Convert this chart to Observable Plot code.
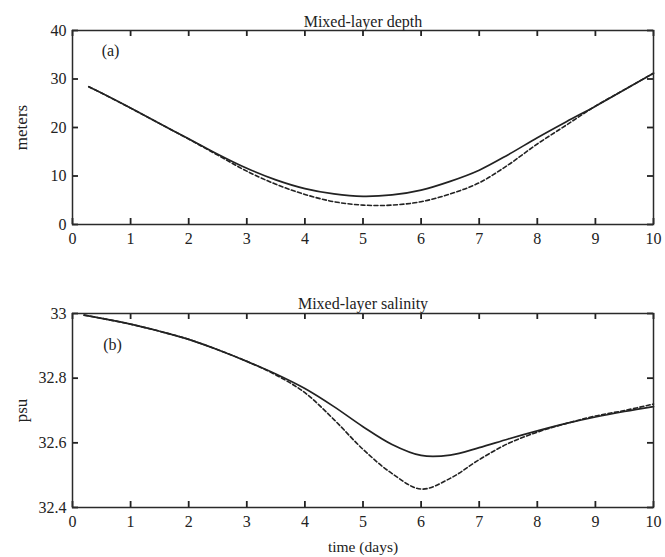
<!DOCTYPE html>
<html><head><meta charset="utf-8">
<script src="https://cdn.jsdelivr.net/npm/d3@7"></script>
<script src="https://cdn.jsdelivr.net/npm/@observablehq/plot@0.6"></script>
<style>
body{margin:0;background:#fff;}
#chart svg{display:block;}
</style>
</head><body><div id="chart"></div>
<script>
// ---- Data ----
const depthDays = [0.28, 0.5, 1, 1.5, 2, 2.5, 3, 3.5, 4, 4.5, 5, 5.5, 6, 6.5, 7, 7.5, 8, 8.5, 9, 9.5, 10];
const depthSolid = [28.4, 27.1, 24.0, 20.8, 17.7, 14.5, 11.6, 9.2, 7.4, 6.3, 5.8, 6.1, 7.1, 8.9, 11.2, 14.4, 17.9, 21.2, 24.4, 27.8, 31.2];
const depthDashed = [28.4, 27.1, 24.0, 20.8, 17.6, 14.3, 11.0, 8.3, 6.2, 4.7, 4.0, 4.0, 4.7, 6.3, 8.6, 12.3, 16.6, 20.5, 24.4, 27.8, 31.2];

const salDays = [0.2, 0.5, 1, 1.5, 2, 2.5, 3, 3.5, 4, 4.5, 5, 5.5, 6, 6.5, 7, 7.5, 8, 8.5, 9, 9.5, 10];
const salSolid = [32.995, 32.985, 32.967, 32.945, 32.92, 32.888, 32.852, 32.813, 32.768, 32.712, 32.65, 32.595, 32.561, 32.562, 32.585, 32.612, 32.637, 32.66, 32.68, 32.697, 32.712];
const salDashed = [32.995, 32.985, 32.967, 32.945, 32.92, 32.888, 32.852, 32.81, 32.755, 32.672, 32.58, 32.505, 32.457, 32.49, 32.548, 32.598, 32.633, 32.66, 32.683, 32.70, 32.72];

const xTicks = [0, 1, 2, 3, 4, 5, 6, 7, 8, 9, 10];
const depthTicks = [0, 10, 20, 30, 40];
const salTicks = [32.4, 32.6, 32.8, 33];
const salTickLabels = ["32.4", "32.6", "32.8", "33"];

const W = 665, ML = 72, MR = 12, FH = 194, TICK = 6;

function panel(o) {
  const solid = o.days.map((d, i) => ({t: d, v: o.solid[i]}));
  const dashed = o.days.map((d, i) => ({t: d, v: o.dashed[i]}));
  const fw = W - ML - MR;
  // tick length expressed in each scale's units (TICK pixels)
  const [y0, y1] = o.yDomain;
  const ty = (y1 - y0) * TICK / FH;
  const tx = 10 * TICK / fw;
  const st = {stroke: "#222", strokeWidth: 1.8};
  const marks = [
    Plot.line(dashed, {x: "t", y: "v", stroke: "#222", strokeWidth: 1.6, strokeDasharray: "4,2.5", curve: "catmull-rom"}),
    Plot.line(solid, {x: "t", y: "v", stroke: "#222", strokeWidth: 1.7, curve: "catmull-rom"}),
    // inward tick marks on all four sides
    Plot.ruleX(xTicks, {x: d => d, y1: y0, y2: y0 + ty, ...st}),
    Plot.ruleX(xTicks, {x: d => d, y1: y1, y2: y1 - ty, ...st}),
    Plot.ruleY(o.yTicks, {y: d => d, x1: 0, x2: tx, ...st}),
    Plot.ruleY(o.yTicks, {y: d => d, x1: 10, x2: 10 - tx, ...st}),
    Plot.frame({stroke: "#2a2a2a", strokeWidth: 1.5}),
    // tick labels
    Plot.axisX({anchor: "bottom", ticks: xTicks, tickSize: 0, tickPadding: 8, tickFormat: d => String(d), label: null, fill: "#222"}),
    Plot.axisY({anchor: "left", ticks: o.yTicks, tickSize: 0, tickPadding: 6, tickFormat: o.yFormat, label: null, fill: "#222"}),
    Plot.text([o.title], {frameAnchor: "top", dy: o.titleDy, lineAnchor: "middle", fontSize: 16, fill: "#222"}),
    Plot.text([o.letter], {frameAnchor: "top-left", dx: o.letterDx, dy: o.letterDy, lineAnchor: "middle", textAnchor: "middle", fontSize: 16, fill: "#222"}),
    Plot.text([o.ylabel], {frameAnchor: "left", dx: -51, rotate: -90, lineAnchor: "middle", textAnchor: "middle", fontSize: 17, fill: "#222"})
  ];
  if (o.xlabel) marks.push(Plot.text([o.xlabel], {frameAnchor: "bottom", dy: 40, lineAnchor: "middle", fontSize: 15.5, fill: "#222"}));
  return Plot.plot({
    width: W,
    height: o.height,
    marginTop: o.marginTop,
    marginBottom: o.marginBottom,
    marginLeft: ML,
    marginRight: MR,
    style: {fontFamily: "'Liberation Serif', 'DejaVu Serif', serif", fontSize: "16px", color: "#222", background: "#fff"},
    x: {domain: [0, 10]},
    y: {domain: o.yDomain},
    marks
  });
}

const topPanel = panel({
  days: depthDays, solid: depthSolid, dashed: depthDashed,
  height: 262, marginTop: 30, marginBottom: 38,
  yDomain: [0, 40], yTicks: depthTicks, yFormat: d => String(d),
  title: "Mixed-layer depth", titleDy: -9, letter: "(a)", letterDx: 38, letterDy: 20,
  ylabel: "meters"
});
const bottomPanel = panel({
  days: salDays, solid: salSolid, dashed: salDashed,
  height: 295, marginTop: 51, marginBottom: 50,
  yDomain: [32.4, 33], yTicks: salTicks, yFormat: d => salTickLabels[salTicks.indexOf(d)] ?? String(d),
  title: "Mixed-layer salinity", titleDy: -10, letter: "(b)", letterDx: 40, letterDy: 31,
  ylabel: "psu", xlabel: "time (days)"
});
document.getElementById("chart").append(topPanel, bottomPanel);
</script>
</body></html>
